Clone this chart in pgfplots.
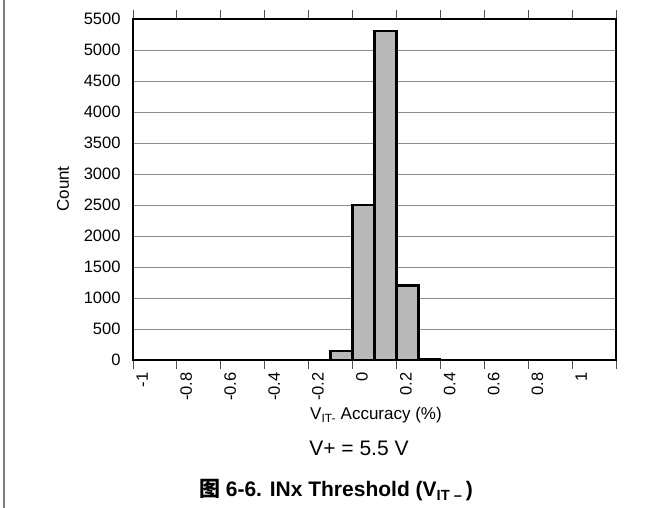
\documentclass[border=0pt]{standalone}
\usepackage{fontspec}
\setmainfont{Liberation Sans}
\newfontfamily\cjk{Noto Sans CJK SC}
\usepackage{pgfplots}
\pgfplotsset{compat=1.18}
\definecolor{barfill}{RGB}{185,185,185}
\definecolor{gridc}{RGB}{140,140,140}
\definecolor{tickc}{RGB}{80,80,80}
\definecolor{borderc}{RGB}{125,125,125}
\begin{document}
\begin{tikzpicture}
\useasboundingbox (0,0) rectangle (662pt,508pt);
\draw[line width=1.5pt, borderc] (4pt,0) -- (4pt,508pt);
\begin{axis}[
  at={(133pt,148pt)}, anchor=south west,
  width=483pt, height=341pt, scale only axis,
  xmin=-1, xmax=1.2, ymin=0, ymax=5500,
  xtick={-1,-0.8,-0.6,-0.4,-0.2,0,0.2,0.4,0.6,0.8,1,1.2},
  xticklabels={-1,-0.8,-0.6,-0.4,-0.2,0,0.2,0.4,0.6,0.8,1,},
  ytick={0,500,1000,1500,2000,2500,3000,3500,4000,4500,5000,5500},
  /pgf/number format/assume math mode=true,
  /pgf/number format/1000 sep={},
  ymajorgrids,
  major grid style={gridc, line width=0.9pt},
  tick align=outside, xtick pos=both, ytick pos=left,
  major tick length=9pt,
  xtick style={tickc, line width=0.9pt},
  ytick style={draw=none},
  axis line style={line width=2.3pt, black},
  xticklabel style={font=\fontsize{16.5}{16.5}\selectfont, rotate=90, anchor=north east, xshift=0pt},
  yticklabel style={font=\fontsize{16.5}{16.5}\selectfont},
]
\addplot[ybar interval, fill=barfill, draw=black, line width=2.2pt]
  coordinates {(-0.1,150) (0,2500) (0.1,5300) (0.2,1200) (0.3,20) (0.4,20)};
\end{axis}
\node[rotate=90, font=\fontsize{17}{17}\selectfont] at (63pt,319pt) {Count};
\node[anchor=base, font=\fontsize{17}{17}\selectfont] at (376pt,88pt) {V\textsubscript{IT-} Accuracy (\%)};
\node[anchor=base, font=\fontsize{21}{21}\selectfont] at (359pt,52pt) {V+ = 5.5 V};
\node[anchor=base, font=\bfseries\fontsize{21}{21}\selectfont] at (336pt,11pt) {{\cjk 图} 6-6. INx Threshold (V\textsubscript{IT –}\,)};
\end{tikzpicture}
\end{document}
